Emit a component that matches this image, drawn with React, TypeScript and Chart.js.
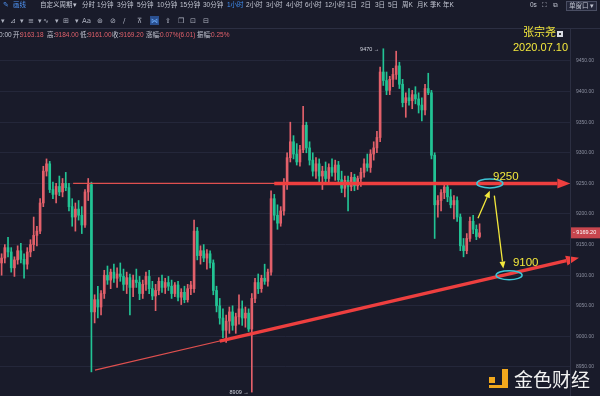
import React, { useEffect, useRef } from "react";
import { Chart, registerables } from "chart.js";

Chart.register(...registerables);

// 1-hour candles: [open, high, low, close]
const candles: number[][] = [
  [9120, 9135, 9100, 9128], [9128, 9150, 9120, 9145], [9145, 9162, 9130, 9138], [9138, 9145, 9105, 9112],
  [9112, 9130, 9098, 9125], [9125, 9148, 9118, 9140], [9140, 9152, 9120, 9126], [9126, 9135, 9095, 9118],
  [9118, 9145, 9110, 9138], [9138, 9158, 9130, 9150], [9150, 9195, 9140, 9165], [9165, 9180, 9148, 9172],
  [9172, 9225, 9168, 9218], [9218, 9278, 9212, 9270], [9270, 9290, 9262, 9282], [9282, 9286, 9235, 9240],
  [9240, 9252, 9225, 9232], [9232, 9250, 9218, 9245], [9245, 9262, 9230, 9236], [9236, 9258, 9228, 9250],
  [9250, 9268, 9238, 9243], [9243, 9250, 9205, 9212], [9212, 9225, 9180, 9195], [9195, 9218, 9172, 9208],
  [9208, 9222, 9190, 9198], [9198, 9212, 9168, 9182], [9182, 9240, 9178, 9236], [9236, 9258, 9222, 9248],
  [9248, 9252, 8942, 9040], [9040, 9068, 9022, 9060], [9060, 9082, 9030, 9048], [9048, 9075, 9035, 9070],
  [9070, 9108, 9062, 9100], [9100, 9115, 9085, 9092], [9092, 9110, 9078, 9105], [9105, 9118, 9088, 9095],
  [9095, 9112, 9080, 9102], [9102, 9120, 9090, 9098], [9098, 9110, 9075, 9085], [9085, 9105, 9070, 9096],
  [9096, 9102, 9035, 9080], [9080, 9100, 9065, 9092], [9092, 9110, 9080, 9088], [9088, 9098, 9060, 9070],
  [9070, 9092, 9062, 9085], [9085, 9105, 9075, 9098], [9098, 9108, 9070, 9078], [9078, 9090, 9060, 9066],
  [9066, 9085, 9042, 9075], [9075, 9096, 9068, 9090], [9090, 9100, 9072, 9080], [9080, 9095, 9070, 9088],
  [9088, 9098, 9075, 9082], [9082, 9092, 9062, 9070], [9070, 9088, 9065, 9084], [9084, 9090, 9058, 9064],
  [9064, 9078, 9052, 9072], [9072, 9082, 9055, 9060], [9060, 9085, 9056, 9078], [9078, 9090, 9068, 9084],
  [9078, 9190, 9072, 9172], [9172, 9178, 9125, 9132], [9132, 9148, 9118, 9140], [9140, 9150, 9122, 9128],
  [9128, 9142, 9110, 9135], [9135, 9140, 9112, 9120], [9120, 9125, 9068, 9075], [9075, 9082, 9040, 9050],
  [9050, 9062, 9020, 9030], [9030, 9045, 8998, 9010], [9010, 9035, 8990, 9025], [9025, 9048, 9005, 9040],
  [9040, 9050, 9010, 9018], [9018, 9038, 9005, 9032], [9032, 9068, 9020, 9045], [9045, 9058, 9018, 9030],
  [9030, 9048, 9015, 9038], [9038, 9045, 9008, 9012], [9012, 9070, 8909, 9062], [9062, 9095, 9055, 9088],
  [9088, 9102, 9070, 9078], [9078, 9100, 9072, 9095], [9095, 9118, 9085, 9090], [9090, 9110, 9082, 9105],
  [9105, 9238, 9100, 9225], [9225, 9232, 9190, 9198], [9198, 9215, 9175, 9185], [9185, 9212, 9180, 9205],
  [9205, 9258, 9198, 9250], [9250, 9300, 9240, 9292], [9292, 9350, 9285, 9318], [9318, 9328, 9290, 9298],
  [9298, 9315, 9280, 9285], [9285, 9312, 9278, 9305], [9305, 9376, 9300, 9345], [9345, 9350, 9300, 9308],
  [9308, 9318, 9280, 9288], [9288, 9300, 9262, 9270], [9270, 9292, 9258, 9282], [9282, 9290, 9250, 9262],
  [9262, 9278, 9240, 9270], [9270, 9285, 9252, 9258], [9258, 9282, 9250, 9276], [9276, 9290, 9262, 9268],
  [9268, 9288, 9255, 9280], [9280, 9286, 9248, 9256], [9256, 9270, 9235, 9242], [9242, 9262, 9228, 9255],
  [9255, 9262, 9205, 9245], [9245, 9268, 9238, 9260], [9260, 9265, 9238, 9246], [9246, 9262, 9240, 9258],
  [9258, 9275, 9245, 9268], [9268, 9290, 9260, 9282], [9282, 9298, 9270, 9276], [9276, 9305, 9268, 9298],
  [9298, 9318, 9288, 9308], [9308, 9335, 9300, 9325], [9325, 9440, 9318, 9432], [9432, 9470, 9410, 9418],
  [9418, 9432, 9395, 9402], [9402, 9425, 9395, 9420], [9420, 9438, 9408, 9428], [9428, 9466, 9420, 9442],
  [9442, 9448, 9405, 9412], [9412, 9420, 9375, 9382], [9382, 9398, 9358, 9390], [9390, 9405, 9378, 9385],
  [9385, 9402, 9372, 9395], [9395, 9408, 9380, 9388], [9388, 9398, 9365, 9378], [9378, 9390, 9352, 9370],
  [9370, 9412, 9362, 9405], [9405, 9430, 9395, 9398], [9398, 9402, 9290, 9296], [9296, 9300, 9160, 9215],
  [9215, 9230, 9195, 9222], [9222, 9240, 9205, 9235], [9235, 9250, 9225, 9244], [9244, 9250, 9220, 9228],
  [9228, 9240, 9210, 9215], [9215, 9230, 9192, 9222], [9222, 9228, 9188, 9195], [9195, 9200, 9140, 9148],
  [9148, 9160, 9130, 9140], [9140, 9168, 9135, 9160], [9160, 9195, 9155, 9188], [9188, 9198, 9168, 9175],
  [9175, 9182, 9158, 9163.18], [9163.18, 9184, 9161, 9169.2],
];

const slotCount = 178;
const categories = Array.from({ length: slotCount }, (_, i) => String(i));
const yTickValues = [8950, 9000, 9050, 9100, 9150, 9200, 9250, 9300, 9350, 9400, 9450];
const yMin = 8902.6;
const yMax = 9484.3;

const periodTabs = ["分时", "1分钟", "3分钟", "5分钟", "10分钟", "15分钟", "30分钟", "1小时", "2小时", "3小时", "4小时", "6小时", "12小时", "1日", "2日", "3日", "5日", "周K", "月K", "季K", "年K"];
const activeTab = "1小时";
const quoteLabels = ["开:", "高:", "低:", "收:", "涨幅:", "振幅:"];
const quoteValues = ["9163.18", "9184.00", "9161.00", "9169.20", "0.07%(6.01)", "0.25%"];
const author = "张宗尧";
const dateText = "2020.07.10";

// annotations: [category index, price]
const resistanceThin = [[22.3, 9250], [86.5, 9250]];
const resistanceArrow = [[85, 9250], [177.3, 9250]];
const supportThin = [[29.1, 8945], [75, 9001]];
const supportArrow = [[68, 8992.3], [180, 9128.6]];
const markEllipses = [[152.2, 9250], [158.2, 9100]];
const yellowArrows = [[[148.5, 9193], [152.2, 9238]], [[153.6, 9230], [156.4, 9111]]];
const levelLabels: [string, number, number][] = [["9250", 153.2, 9260.5], ["9100", 159.4, 9120]];
const extremeHigh = { index: 119, value: 9470 };
const extremeLow = { index: 78, value: 8909 };

const BG = "#191b2a";
const UP = "#e2606a";
const DOWN = "#22c394";
const YELLOW = "#f3e83c";
const RED_LINE = "#ee3f3f";
const TXT = "#c3c6d2";
const CJK = '"Liberation Sans", "Noto Sans CJK SC", sans-serif';

function arrowLine(ctx: CanvasRenderingContext2D, x1: number, y1: number, x2: number, y2: number, width: number, len: number, half: number, color: string) {
  const a = Math.atan2(y2 - y1, x2 - x1);
  const bx = x2 - Math.cos(a) * len;
  const by = y2 - Math.sin(a) * len;
  ctx.strokeStyle = color;
  ctx.lineWidth = width;
  ctx.beginPath();
  ctx.moveTo(x1, y1);
  ctx.lineTo(bx, by);
  ctx.stroke();
  ctx.fillStyle = color;
  ctx.beginPath();
  ctx.moveTo(x2, y2);
  ctx.lineTo(bx + Math.sin(a) * half, by - Math.cos(a) * half);
  ctx.lineTo(bx - Math.sin(a) * half, by + Math.cos(a) * half);
  ctx.closePath();
  ctx.fill();
}

const overlayPlugin = {
  id: "overlay",
  beforeDraw(chart: any) {
    const { ctx } = chart;
    ctx.save();
    ctx.fillStyle = BG;
    ctx.fillRect(0, 0, chart.width, chart.height);
    ctx.restore();
  },
  afterDatasetsDraw(chart: any) {
    const { ctx } = chart;
    const xs = chart.scales.x;
    const ys = chart.scales.y;
    const px = (i: number) => xs.getPixelForValue(i);
    const py = (v: number) => ys.getPixelForValue(v);
    ctx.save();
    ctx.lineCap = "butt";
    // thin lines
    ctx.strokeStyle = "#e0504f";
    ctx.lineWidth = 1.2;
    for (const seg of [resistanceThin, supportThin]) {
      ctx.beginPath();
      ctx.moveTo(px(seg[0][0]), py(seg[0][1]));
      ctx.lineTo(px(seg[1][0]), py(seg[1][1]));
      ctx.stroke();
    }
    // thick arrows
    arrowLine(ctx, px(resistanceArrow[0][0]), py(resistanceArrow[0][1]), px(resistanceArrow[1][0]), py(resistanceArrow[1][1]), 3.5, 13, 5, RED_LINE);
    arrowLine(ctx, px(supportArrow[0][0]), py(supportArrow[0][1]), px(supportArrow[1][0]), py(supportArrow[1][1]), 3.5, 13, 5, RED_LINE);
    // ellipses
    ctx.strokeStyle = "#3ec6d6";
    ctx.lineWidth = 1.5;
    for (const e of markEllipses) {
      ctx.beginPath();
      ctx.ellipse(px(e[0]), py(e[1]), 13, 4.5, 0, 0, Math.PI * 2);
      ctx.stroke();
    }
    // yellow arrows
    for (const a of yellowArrows) {
      arrowLine(ctx, px(a[0][0]), py(a[0][1]), px(a[1][0]), py(a[1][1]), 1.3, 7, 3, YELLOW);
    }
    // labels
    ctx.fillStyle = YELLOW;
    ctx.font = `11.5px ${CJK}`;
    ctx.textBaseline = "middle";
    ctx.textAlign = "left";
    for (const [t, i, v] of levelLabels) ctx.fillText(t, px(i), py(v));
    // extremes
    ctx.fillStyle = "#d0d3dd";
    ctx.font = `5.5px ${CJK}`;
    ctx.textAlign = "right";
    ctx.fillText(`${extremeHigh.value} →`, px(extremeHigh.index) - 4, py(extremeHigh.value) + 1);
    ctx.fillText(`${extremeLow.value} →`, px(extremeLow.index) - 3, py(extremeLow.value));
    ctx.restore();
  },
  afterDraw(chart: any) {
    const { ctx } = chart;
    const ys = chart.scales.y;
    ctx.save();
    // separators
    ctx.strokeStyle = "#2c2f42";
    ctx.lineWidth = 1;
    ctx.beginPath();
    ctx.moveTo(0, 28.5);
    ctx.lineTo(600, 28.5);
    ctx.moveTo(570.5, 28.5);
    ctx.lineTo(570.5, 396);
    ctx.stroke();

    // toolbar row 1
    ctx.textBaseline = "middle";
    ctx.textAlign = "left";
    ctx.font = `6.5px ${CJK}`;
    ctx.fillStyle = "#4f93f2";
    ctx.fillText("✎", 3, 5.5);
    ctx.fillText("画线", 13, 5.5);
    ctx.fillStyle = TXT;
    ctx.fillText("自定义周期", 40, 5.5);
    ctx.fillText("▾", 73, 5.5);
    const tabX = [82, 97, 117, 137, 157, 180, 203, 227, 246, 266, 286, 305, 325, 347, 361, 375, 388, 402, 417, 430, 443];
    periodTabs.forEach((t, i) => {
      ctx.fillStyle = t === activeTab ? "#3f8ef2" : TXT;
      ctx.fillText(t, tabX[i], 5.5);
    });
    ctx.fillStyle = TXT;
    ctx.fillText("0s", 530, 5.5);
    ctx.fillText("⛶", 542, 5.5);
    ctx.fillText("⧉", 553, 5.5);
    ctx.strokeStyle = "#4a4e63";
    ctx.fillStyle = "#24273a";
    ctx.fillRect(566, 1.5, 31, 9);
    ctx.strokeRect(566.5, 1.5, 30, 9);
    ctx.fillStyle = TXT;
    ctx.fillText("单窗口 ▾", 569, 6);

    // toolbar row 2 icons
    ctx.font = `7px "DejaVu Sans", sans-serif`;
    ctx.fillStyle = "#aeb2c0";
    const icons: [string, number][] = [["▾", 1], ["⊿", 10], ["▾", 20], ["≡", 28], ["▾", 38], ["∿", 43], ["▾", 55], ["⊞", 63], ["▾", 75], ["Aa", 82], ["⊛", 97], ["⊘", 110], ["∕", 123], ["⊼", 137], ["⇪", 165], ["❐", 178], ["⊡", 190], ["⊟", 203]];
    for (const [g, x] of icons) ctx.fillText(g, x, 21);
    ctx.fillStyle = "#2a4f8f";
    ctx.fillRect(150, 16, 9, 9);
    ctx.fillStyle = "#6fb0ff";
    ctx.fillText("⋈", 151, 21);

    // quote row
    ctx.font = `6.5px ${CJK}`;
    ctx.fillStyle = TXT;
    ctx.fillText("0:00", -1, 35);
    const labelX = [13, 47, 80, 112, 146, 197];
    const valueX = [20, 55, 88, 120, 160, 211];
    quoteLabels.forEach((l, i) => {
      ctx.fillStyle = TXT;
      ctx.fillText(l, labelX[i], 35);
      ctx.fillStyle = "#e0606a";
      ctx.fillText(quoteValues[i], valueX[i], 35);
    });

    // author / date
    ctx.fillStyle = YELLOW;
    ctx.font = `11px ${CJK}`;
    ctx.fillText(author, 523, 33);
    ctx.fillText(dateText, 513, 47.5);
    ctx.fillStyle = "#d8dae2";
    ctx.fillRect(557, 31, 6, 6);
    ctx.fillStyle = "#333";
    ctx.fillRect(559, 33, 2, 2);

    // last price box
    const last = candles[candles.length - 1][3];
    const ly = ys.getPixelForValue(last);
    ctx.fillStyle = "#c8464e";
    ctx.fillRect(571, ly - 5.5, 29, 11);
    ctx.fillStyle = "#ffffff";
    ctx.font = `5.5px ${CJK}`;
    ctx.fillText("- " + last.toFixed(2), 573, ly);

    // logo
    ctx.fillStyle = "#f2a81d";
    ctx.fillRect(489, 377, 6, 6);
    ctx.fillRect(502, 369, 6, 19);
    ctx.fillRect(489, 385, 19, 3);
    ctx.fillStyle = "#f2f2f2";
    ctx.font = `19px "Noto Sans CJK SC", sans-serif`;
    ctx.fillText("金色财经", 514, 379.5);
    ctx.restore();
  },
};

export default function App() {
  const ref = useRef<HTMLCanvasElement | null>(null);
  useEffect(() => {
    if (!ref.current) return;
    const colors = candles.map((c) => (c[3] >= c[0] ? UP : DOWN));
    const chart = new Chart(ref.current, {
      type: "bar",
      data: {
        labels: categories,
        datasets: [
          {
            label: "body",
            data: candles.map((c) => [Math.min(c[0], c[3]), Math.max(c[0], c[3])]) as any,
            backgroundColor: colors,
            barThickness: 2,
            grouped: false,
            minBarLength: 1,
            order: 0,
          } as any,
          {
            label: "wick",
            data: candles.map((c) => [c[2], c[1]]) as any,
            backgroundColor: colors,
            barThickness: 1,
            grouped: false,
            order: 1,
          } as any,
        ],
      },
      options: {
        responsive: false,
        animation: false,
        devicePixelRatio: 1,
        events: [],
        layout: { padding: { top: 40, left: 0, right: 0, bottom: 0 } },
        plugins: { legend: { display: false }, tooltip: { enabled: false } },
        scales: {
          x: { type: "category", display: false, offset: true, grid: { display: false } },
          y: {
            position: "right",
            min: yMin,
            max: yMax,
            ticks: {
              includeBounds: false,
              padding: 5,
              color: "#8c90a0",
              font: { size: 5, family: '"Liberation Sans", sans-serif' },
              callback: (v: any) => Number(v).toFixed(2),
            },
            afterBuildTicks: (s: any) => {
              s.ticks = yTickValues.map((v) => ({ value: v }));
            },
            afterFit: (s: any) => {
              s.width = 29;
              s.paddingTop = 0;
              s.paddingBottom = 0;
            },
            grid: { color: "#24273a", drawTicks: false, lineWidth: 1 },
            border: { display: false },
          },
        },
      } as any,
      plugins: [overlayPlugin],
    });
    return () => chart.destroy();
  }, []);
  return (
    <div style={{ position: "fixed", left: 0, top: 0, width: 600, height: 396, background: BG }}>
      <canvas ref={ref} width={600} height={396} />
    </div>
  );
}
